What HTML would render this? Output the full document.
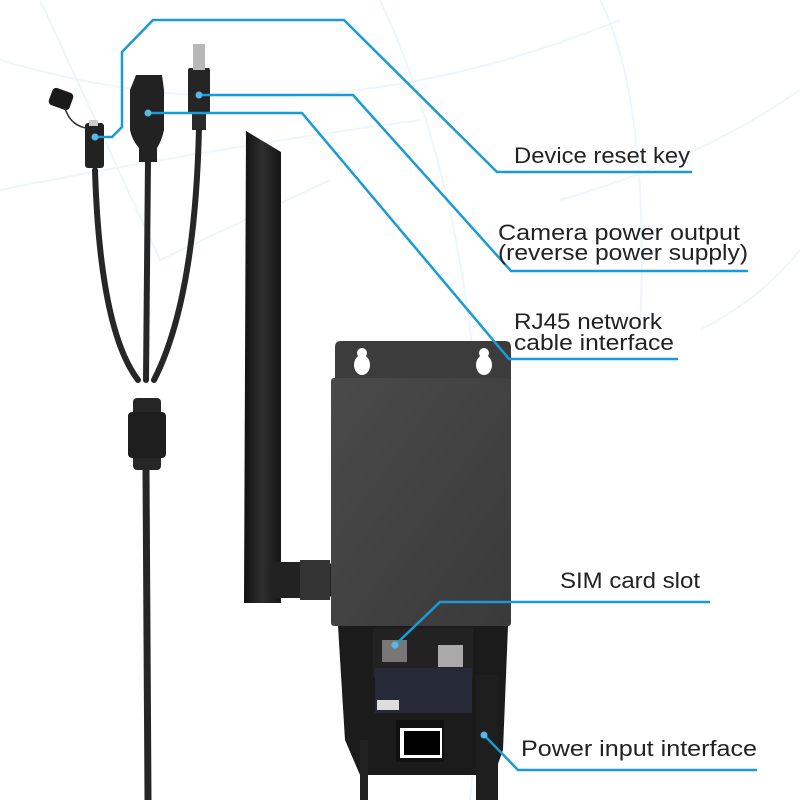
<!DOCTYPE html>
<html><head><meta charset="utf-8"><style>
html,body{margin:0;padding:0;background:#fff;}
svg{display:block;}
text{font-family:"Liberation Sans",sans-serif;fill:#222;font-size:22px;}
</style></head><body>
<svg width="800" height="800" viewBox="0 0 800 800" xmlns="http://www.w3.org/2000/svg">
<defs>
<linearGradient id="body" x1="0" y1="0" x2="1" y2="1"><stop offset="0" stop-color="#4a4a4a"/><stop offset="1" stop-color="#3a3a3a"/></linearGradient>
<linearGradient id="ant" x1="0" y1="0" x2="1" y2="0"><stop offset="0" stop-color="#111"/><stop offset="0.5" stop-color="#2e2e2e"/><stop offset="1" stop-color="#151515"/></linearGradient>
</defs>
<rect width="800" height="800" fill="#fff"/>
<!-- faint background -->
<g stroke="#eef6fb" stroke-width="2" fill="none">
<path d="M0 60 Q300 150 620 20"/><path d="M380 0 Q520 300 470 800"/><path d="M560 200 Q700 160 800 90"/>
<path d="M0 190 Q200 150 420 120"/><path d="M600 0 Q650 100 640 330"/><path d="M700 330 Q760 300 800 250"/>
<path d="M40 0 L160 260 L330 180"/>
</g>
<!-- antenna -->
<path d="M246 131 L281 152 L281 603 L244 603 Z" fill="url(#ant)"/>
<rect x="270" y="562" width="62" height="36" rx="5" fill="#222"/>
<rect x="300" y="560" width="30" height="40" fill="#333"/>
<!-- device plate -->
<path d="M341 341 H505 Q511 341 511 347 V380 H335 V347 Q335 341 341 341Z" fill="#3c3c3c"/>
<ellipse cx="362" cy="365" rx="8" ry="10" fill="#fff"/><circle cx="362" cy="353" r="5" fill="#fff"/>
<ellipse cx="484" cy="365" rx="8" ry="10" fill="#fff"/><circle cx="484" cy="353" r="5" fill="#fff"/>
<rect x="331" y="378" width="180" height="248" rx="3" fill="url(#body)"/>
<!-- lower open part -->
<path d="M338 626 H508 L503 750 L494 775 H360 L345 740 Z" fill="#1b1b1b"/>
<rect x="373" y="628" width="100" height="50" fill="#222"/>
<rect x="382" y="640" width="25" height="22" fill="#777"/>
<rect x="438" y="645" width="25" height="22" fill="#aaa"/>
<rect x="375" y="668" width="97" height="45" fill="#262a38"/>
<rect x="377" y="700" width="22" height="10" fill="#ddd"/>
<rect x="396" y="720" width="48" height="42" fill="#111"/>
<rect x="400" y="728" width="42" height="30" fill="#fff"/>
<rect x="404" y="731" width="36" height="24" fill="#000"/>
<rect x="476" y="675" width="22" height="125" fill="#1e1e1e"/>
<rect x="360" y="740" width="8" height="60" fill="#222"/>
<!-- cables -->
<g stroke="#262626" fill="none" stroke-linecap="round">
<path d="M95 170 Q100 330 138 380" stroke-width="6"/>
<path d="M148 160 L146 380" stroke-width="6"/>
<path d="M199 128 Q195 300 154 380" stroke-width="6"/>
<path d="M146 470 L148 800" stroke-width="7"/>
</g>
<rect x="133" y="398" width="28" height="72" rx="4" fill="#262626"/>
<rect x="128" y="412" width="38" height="46" rx="4" fill="#1e1e1e"/>
<!-- connectors -->
<rect x="85" y="123" width="19" height="45" rx="3" fill="#222"/>
<rect x="89" y="120" width="9" height="6" fill="#ccc"/>
<rect x="50" y="90" width="22" height="18" rx="4" fill="#1a1a1a" transform="rotate(20 61 99)"/>
<path d="M65 108 Q70 125 86 128" stroke="#333" stroke-width="1.5" fill="none"/>
<path d="M136 75 H162 L164 90 V130 Q162 140 157 148 V162 H139 V148 Q132 140 130 130 V90 Z" fill="#222"/>
<rect x="188" y="68" width="22" height="45" rx="2" fill="#252525"/>
<rect x="193" y="44" width="12" height="26" fill="#b8b8b8"/>
<rect x="192" y="112" width="14" height="18" fill="#2a2a2a"/>
<!-- callout lines -->
<g stroke="#1a9ad6" stroke-width="2.5" fill="none">
<path d="M95 137 H112 L122 127 V52 L153 20 H344 L497 172 H692"/>
<path d="M199 95 H353 L511 271 H748"/>
<path d="M148 113 H302 L509 359 H678"/>
<path d="M395 645 L440 602 H710"/>
<path d="M484 735 L518 770 H757"/>
</g>
<g fill="#5ab8e6">
<circle cx="95" cy="137" r="3.5"/><circle cx="199" cy="95" r="3.5"/><circle cx="148" cy="113" r="3.5"/>
<circle cx="395" cy="645" r="3.5"/><circle cx="484" cy="735" r="3.5"/>
</g>
<!-- labels -->
<text x="514" y="163" textLength="176" lengthAdjust="spacingAndGlyphs">Device reset key</text>
<text x="498" y="240" textLength="242" lengthAdjust="spacingAndGlyphs">Camera power output</text>
<text x="498" y="260" textLength="250" lengthAdjust="spacingAndGlyphs">(reverse power supply)</text>
<text x="514" y="329" textLength="148" lengthAdjust="spacingAndGlyphs">RJ45 network</text>
<text x="514" y="350" textLength="160" lengthAdjust="spacingAndGlyphs">cable interface</text>
<text x="560" y="588" textLength="140" lengthAdjust="spacingAndGlyphs">SIM card slot</text>
<text x="521" y="756" textLength="236" lengthAdjust="spacingAndGlyphs">Power input interface</text>
</svg>
</body></html>
